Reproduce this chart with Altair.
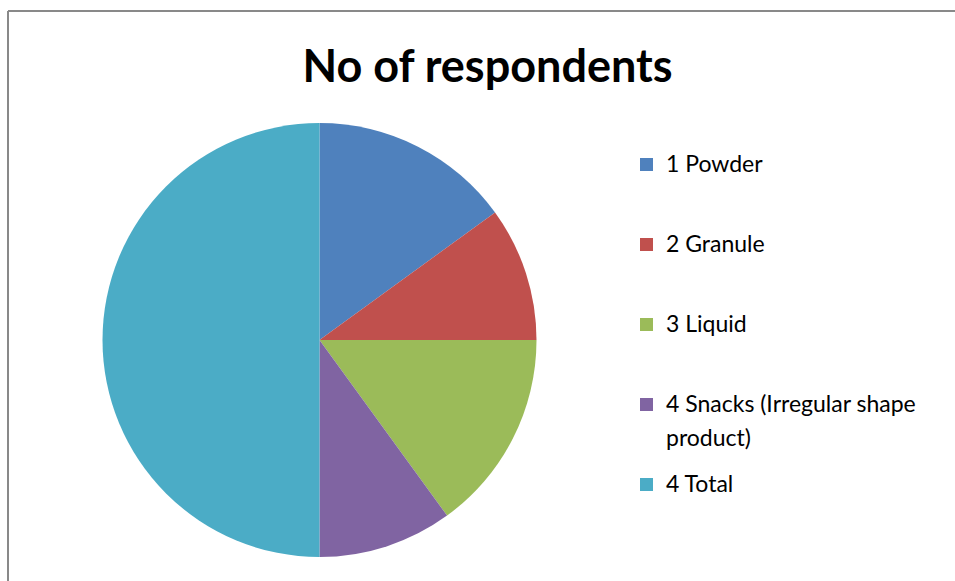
import altair as alt
import pandas as pd

categories = ["1 Powder", "2 Granule", "3 Liquid", "4 Snacks (Irregular shape product)", "4 Total"]
values = [3, 2, 3, 2, 10]
order = [1, 2, 3, 4, 5]
colors = ["#4F81BD", "#C0504D", "#9BBB59", "#8064A2", "#4BACC6"]
title_text = "No of respondents"

df = pd.DataFrame({"category": categories, "value": values, "order": order})
frame_df = pd.DataFrame({"frame": [0]})

W, H = 947, 570

label_expr = ("datum.label == '4 Snacks (Irregular shape product)' ? "
              "['4 Snacks (Irregular shape', 'product)'] : datum.label")

pie = alt.Chart(df).mark_arc(radius=217, stroke=None).encode(
    theta=alt.Theta("value:Q", stack=True),
    order=alt.Order("order:Q"),
    x=alt.value(311.5),
    y=alt.value(329),
    color=alt.Color(
        "category:N",
        scale=alt.Scale(domain=categories, range=colors),
        legend=alt.Legend(
            title=None,
            orient="none",
            legendX=627,
            legendY=142,
            padding=0,
            symbolType="square",
            symbolSize=169,
            symbolStrokeWidth=0,
            labelFont="Lato",
            labelFontSize=23,
            labelColor="#000000",
            labelOffset=8,
            labelLimit=400,
            rowPadding=22,
            gridAlign="all",
            labelExpr=label_expr,
        ),
    ),
)

left_border = alt.Chart(frame_df).mark_rule(color="#898989", strokeWidth=2).encode(
    x=alt.value(0), y=alt.value(0), y2=alt.value(H)
)
top_border = alt.Chart(frame_df).mark_rule(color="#898989", strokeWidth=2).encode(
    x=alt.value(0), x2=alt.value(W), y=alt.value(0)
)

chart = alt.layer(left_border, top_border, pie).properties(
    width=W,
    height=H,
    padding={"left": 8, "top": 11, "right": 0, "bottom": 0},
    autosize=alt.AutoSizeParams(type="none"),
    title=alt.TitleParams(
        title_text,
        font="Lato",
        fontSize=45,
        fontWeight="bold",
        color="#000000",
        anchor="middle",
        orient="top",
        baseline="alphabetic",
        offset=0,
        dx=6,
        dy=117,
    ),
).configure_view(
    stroke=None,
).configure(
    style={"guide-label": {"lineHeight": 34}},
)

chart.save("out.html", embed_options={"renderer": "svg", "actions": False})
